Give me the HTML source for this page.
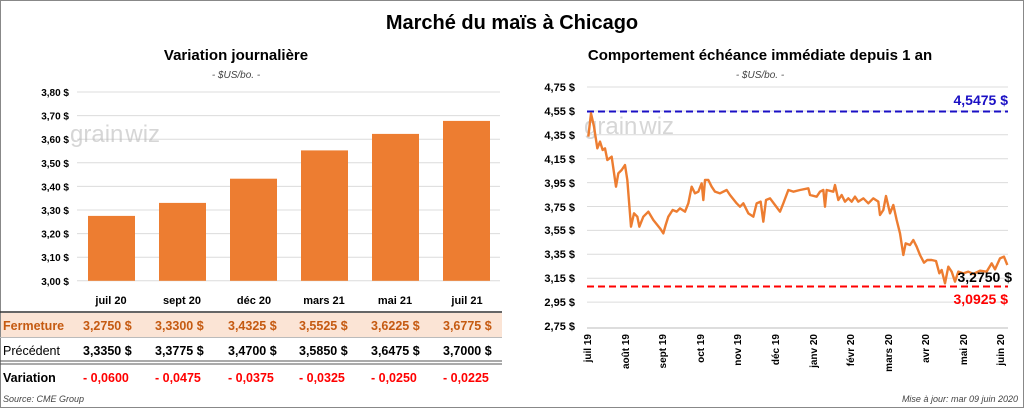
<!DOCTYPE html>
<html><head><meta charset="utf-8"><style>
body{margin:0;background:#fff;}
svg{display:block;font-family:"Liberation Sans",Calibri,sans-serif;}
.b{font-weight:bold}
</style></head><body>
<svg width="1024" height="408" viewBox="0 0 1024 408">
<rect x="0.5" y="0.5" width="1023" height="407" fill="#fff" stroke="#888"/>
<text x="512" y="29" text-anchor="middle" font-size="20" class="b">Marché du maïs à Chicago</text>
<text x="236" y="60" text-anchor="middle" font-size="15" class="b">Variation  journalière</text>
<text x="236" y="78" text-anchor="middle" font-size="10" font-style="italic" fill="#444">- $US/bo. -</text>
<text x="760" y="60" text-anchor="middle" font-size="15" class="b">Comportement  échéance immédiate depuis 1 an</text>
<text x="760" y="78" text-anchor="middle" font-size="10" font-style="italic" fill="#444">- $US/bo. -</text>
<!-- left grid -->
<g stroke="#dcdcdc" stroke-width="1">
<line x1="77" x2="500" y1="92" y2="92"/><line x1="77" x2="500" y1="115.6" y2="115.6"/><line x1="77" x2="500" y1="139.2" y2="139.2"/><line x1="77" x2="500" y1="162.8" y2="162.8"/><line x1="77" x2="500" y1="186.4" y2="186.4"/><line x1="77" x2="500" y1="210" y2="210"/><line x1="77" x2="500" y1="233.6" y2="233.6"/><line x1="77" x2="500" y1="257.2" y2="257.2"/><line x1="77" x2="500" y1="280.8" y2="280.8"/>
</g>
<g font-size="10" class="b" text-anchor="end">
<text x="69" y="96">3,80 $</text><text x="69" y="119.6">3,70 $</text><text x="69" y="143.2">3,60 $</text><text x="69" y="166.8">3,50 $</text><text x="69" y="190.4">3,40 $</text><text x="69" y="214">3,30 $</text><text x="69" y="237.6">3,20 $</text><text x="69" y="261.2">3,10 $</text><text x="69" y="284.8">3,00 $</text>
</g>
<text x="70" y="142" font-size="24" fill="#bbb" opacity="0.6">grain<tspan dx="2">w</tspan>iz</text>
<g fill="#ed7d31">
<rect x="88" y="215.9" width="47" height="64.9"/>
<rect x="159" y="202.9" width="47" height="77.9"/>
<rect x="230" y="178.7" width="47" height="102.1"/>
<rect x="301" y="150.4" width="47" height="130.4"/>
<rect x="372" y="133.9" width="47" height="146.9"/>
<rect x="443" y="120.9" width="47" height="159.9"/>
</g>
<g font-size="11" class="b" text-anchor="middle">
<text x="111" y="304">juil 20</text><text x="182" y="304">sept 20</text><text x="254" y="304">déc 20</text><text x="324" y="304">mars 21</text><text x="395" y="304">mai 21</text><text x="467" y="304">juil 21</text>
</g>
<line x1="0" x2="502" y1="312" y2="312" stroke="#333" stroke-width="1.5"/>
<rect x="1" y="313" width="501" height="24" fill="#fbe4d5"/>
<line x1="0" x2="502" y1="337.5" y2="337.5" stroke="#bbb"/>
<line x1="0" x2="502" y1="361" y2="361" stroke="#555"/>
<line x1="0" x2="502" y1="364" y2="364" stroke="#555"/>
<g font-size="12.5">
<text x="3" y="330" fill="#c55a11" class="b" font-weight="normal">Fermeture</text>
<text x="3" y="355">Précédent</text>
<text x="3" y="382" class="b">Variation</text>
</g>
<g font-size="12.5" class="b" fill="#c55a11">
<text x="83" y="330">3,2750  $</text><text x="155" y="330">3,3300  $</text><text x="228" y="330">3,4325  $</text><text x="299" y="330">3,5525  $</text><text x="371" y="330">3,6225  $</text><text x="443" y="330">3,6775  $</text>
</g>
<g font-size="12.5" class="b">
<text x="83" y="355">3,3350  $</text><text x="155" y="355">3,3775  $</text><text x="228" y="355">3,4700  $</text><text x="299" y="355">3,5850  $</text><text x="371" y="355">3,6475  $</text><text x="443" y="355">3,7000  $</text>
</g>
<g font-size="12.5" class="b" fill="#ff0000">
<text x="83" y="382">- 0,0600</text><text x="155" y="382">- 0,0475</text><text x="228" y="382">- 0,0375</text><text x="299" y="382">- 0,0325</text><text x="371" y="382">- 0,0250</text><text x="443" y="382">- 0,0225</text>
</g>
<text x="3" y="402" font-size="9" font-style="italic" fill="#444">Source: CME Group</text>
<!-- right chart -->
<g stroke="#dcdcdc">
<line x1="587" x2="1008" y1="87" y2="87"/><line x1="587" x2="1008" y1="111" y2="111"/><line x1="587" x2="1008" y1="134.8" y2="134.8"/><line x1="587" x2="1008" y1="158.7" y2="158.7"/><line x1="587" x2="1008" y1="182.6" y2="182.6"/><line x1="587" x2="1008" y1="206.5" y2="206.5"/><line x1="587" x2="1008" y1="230.4" y2="230.4"/><line x1="587" x2="1008" y1="254.3" y2="254.3"/><line x1="587" x2="1008" y1="278.2" y2="278.2"/><line x1="587" x2="1008" y1="302.1" y2="302.1"/>
</g>
<line x1="587" x2="1008" y1="328" y2="328" stroke="#bbb"/>
<g font-size="11" class="b" text-anchor="end">
<text x="575" y="91">4,75 $</text><text x="575" y="115">4,55 $</text><text x="575" y="139">4,35 $</text><text x="575" y="163">4,15 $</text><text x="575" y="187">3,95 $</text><text x="575" y="211">3,75 $</text><text x="575" y="234">3,55 $</text><text x="575" y="258">3,35 $</text><text x="575" y="282">3,15 $</text><text x="575" y="306">2,95 $</text><text x="575" y="330">2,75 $</text>
</g>
<text x="584" y="134" font-size="24" fill="#bbb" opacity="0.6">grain<tspan dx="2">w</tspan>iz</text>
<line x1="587" x2="1008" y1="111.5" y2="111.5" stroke="#1a0fc4" stroke-width="2" stroke-dasharray="7,4"/>
<line x1="587" x2="1008" y1="286.5" y2="286.5" stroke="#ff0000" stroke-width="2" stroke-dasharray="7,4"/>
<text x="1008" y="105" text-anchor="end" font-size="14" class="b" fill="#1a0fc4">4,5475 $</text>
<text x="1008" y="304" text-anchor="end" font-size="14" class="b" fill="#ff0000">3,0925 $</text>
<g transform="translate(520,70) scale(0.33333)">
<polyline fill="none" stroke="#ed7d31" stroke-width="2.4" vector-effect="non-scaling-stroke" stroke-linejoin="round" points="205,200 213,130 222,170 232,235 240,215 248,240 255,235 262,270 275,260 288,350 295,310 305,300 315,285 322,330 333,470 342,430 352,440 358,470 370,440 385,425 400,450 420,475 430,490 437,465 445,440 458,420 470,425 480,415 495,425 505,400 515,350 525,370 535,365 545,340 550,390 555,330 565,330 575,350 585,365 600,370 620,360 630,375 650,400 660,410 670,400 685,430 700,440 710,400 722,395 730,455 738,390 750,385 765,405 780,425 790,400 805,360 820,365 840,360 865,355 870,375 890,380 900,365 910,360 915,410 920,360 940,365 945,345 955,390 965,375 975,395 985,385 995,395 1005,380 1015,395 1030,385 1045,400 1060,385 1075,395 1080,435 1090,420 1098,378 1110,430 1120,405 1130,450 1140,490 1150,555 1157,520 1170,525 1180,510 1190,530 1200,555 1212,578 1222,570 1235,570 1248,573 1258,610 1265,600 1275,640 1285,590 1295,605 1305,635 1315,605 1330,610 1345,605 1360,612 1380,602 1400,605 1415,580 1425,598 1440,565 1452,560 1462,585"/>
</g>
<text x="1012" y="282" text-anchor="end" font-size="14" class="b">3,2750 $</text>
<g font-size="10" class="b" text-anchor="end">
<text transform="translate(591,334) rotate(-90)">juil 19</text>
<text transform="translate(629,334) rotate(-90)">août 19</text>
<text transform="translate(666,334) rotate(-90)">sept 19</text>
<text transform="translate(704,334) rotate(-90)">oct 19</text>
<text transform="translate(741,334) rotate(-90)">nov 19</text>
<text transform="translate(779,334) rotate(-90)">déc 19</text>
<text transform="translate(817,334) rotate(-90)">janv 20</text>
<text transform="translate(854,334) rotate(-90)">févr 20</text>
<text transform="translate(892,334) rotate(-90)">mars 20</text>
<text transform="translate(929,334) rotate(-90)">avr 20</text>
<text transform="translate(967,334) rotate(-90)">mai 20</text>
<text transform="translate(1004,334) rotate(-90)">juin 20</text>
</g>
<text x="1018" y="402" text-anchor="end" font-size="9" font-style="italic" fill="#444">Mise à jour: mar 09 juin 2020</text>
</svg>
</body></html>
